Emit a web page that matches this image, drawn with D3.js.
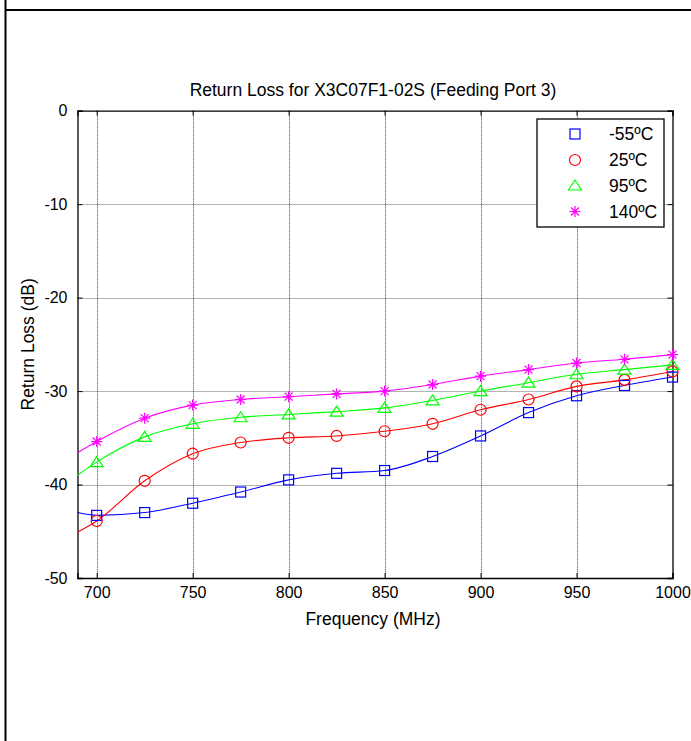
<!DOCTYPE html>
<html>
<head>
<meta charset="utf-8">
<script src="https://cdn.jsdelivr.net/npm/d3@7"></script>
<style>
  html, body { margin: 0; padding: 0; background: #fff; }
  svg { display: block; font-family: "Liberation Sans", Arial, sans-serif; }
</style>
</head>
<body>
<svg id="chart" width="691" height="741"></svg>
<script>
// ---- data ----
const freqs = [690, 700, 725, 750, 775, 800, 825, 850, 875, 900, 925, 950, 975, 1000];
const rlMinus55 = [-43.0, -43.3, -43.0, -42.0, -40.8, -39.5, -38.8, -38.5, -37.0, -34.8, -32.3, -30.5, -29.4, -28.5];
const rl25 = [-45.1, -43.9, -39.6, -36.7, -35.5, -35.0, -34.8, -34.3, -33.5, -32.0, -30.9, -29.5, -28.8, -27.9];
const rl95 = [-39.0, -37.6, -34.9, -33.5, -32.8, -32.5, -32.2, -31.8, -31.0, -30.0, -29.1, -28.2, -27.7, -27.2];
const rl140 = [-36.6, -35.4, -32.9, -31.5, -30.9, -30.6, -30.3, -30.0, -29.3, -28.4, -27.7, -27.0, -26.6, -26.1];
const seriesNames = ["-55ºC", "25ºC", "95ºC", "140ºC"];
const seriesColors = ["#0000ff", "#ff0000", "#00ff00", "#ff00ff"];
const seriesMarkers = ["square", "circle", "triangle", "star"];
const xTicks = [700, 750, 800, 850, 900, 950, 1000];
const yTicks = [0, -10, -20, -30, -40, -50];
const titleText = "Return Loss for X3C07F1-02S (Feeding Port 3)";
const xLabel = "Frequency (MHz)";
const yLabel = "Return Loss (dB)";

const allSeries = [rlMinus55, rl25, rl95, rl140].map((vals, i) => ({
  name: seriesNames[i], color: seriesColors[i], marker: seriesMarkers[i],
  points: freqs.map((f, j) => ({ f, v: vals[j] }))
}));

// ---- layout ----
const svg = d3.select("#chart");
const L = 77.5, R = 672.5, T = 110.7, B = 578;
const x = d3.scaleLinear().domain([690, 1000]).range([L, R]);
const y = d3.scaleLinear().domain([-50, 0]).range([B, T]);

// outer frame
svg.append("line").attr("x1", 5.5).attr("x2", 5.5).attr("y1", 0).attr("y2", 741)
  .attr("stroke", "#000").attr("stroke-width", 2);
svg.append("line").attr("x1", 5).attr("x2", 691).attr("y1", 10).attr("y2", 10)
  .attr("stroke", "#000").attr("stroke-width", 2);

// grid
const grid = svg.append("g");
grid.selectAll(".gx").data(xTicks.filter(t => t < 1000)).enter().append("line")
  .attr("x1", d => Math.round(x(d)) + 0.5).attr("x2", d => Math.round(x(d)) + 0.5)
  .attr("y1", T).attr("y2", B)
  .attr("stroke", "#444").attr("stroke-width", 1).attr("stroke-dasharray", "1,1");
grid.selectAll(".gy").data(yTicks.filter(t => t < 0 && t > -50)).enter().append("line")
  .attr("y1", d => Math.round(y(d)) + 0.5).attr("y2", d => Math.round(y(d)) + 0.5)
  .attr("x1", L).attr("x2", R)
  .attr("stroke", "#666").attr("stroke-width", 1).attr("stroke-dasharray", "1,1");

// axes (inward ticks, box)
const fs = 16, fsText = 17.5;
const fmt = d => String(d);
const xAxisB = d3.axisBottom(x).tickValues(xTicks).tickSize(-5).tickPadding(9).tickFormat(fmt);
const gxb = svg.append("g").attr("transform", `translate(0,${B})`).call(xAxisB);
const xAxisT = d3.axisTop(x).tickValues(xTicks).tickSize(-5).tickFormat("");
const gxt = svg.append("g").attr("transform", `translate(0,${T})`).call(xAxisT);
const yAxisL = d3.axisLeft(y).tickValues(yTicks).tickSize(-5).tickPadding(10).tickFormat(fmt);
const gyl = svg.append("g").attr("transform", `translate(${L},0)`).call(yAxisL);
const yAxisR = d3.axisRight(y).tickValues(yTicks).tickSize(-5).tickFormat("");
const gyr = svg.append("g").attr("transform", `translate(${R},0)`).call(yAxisR);
[gxb, gxt, gyl, gyr].forEach(g => {
  g.select(".domain").attr("stroke", "#000").attr("stroke-width", 1.3);
  g.selectAll(".tick line").attr("stroke", "#000");
  g.selectAll("text").attr("font-size", fs).attr("font-family", "Liberation Sans, Arial, sans-serif").attr("fill", "#000");
});
gxb.selectAll("text").attr("dy", "0.71em");

// lines
const line = d3.line().x(d => x(d.f)).y(d => y(d.v)).curve(d3.curveMonotoneX);
const plot = svg.append("g");
allSeries.forEach(s => {
  plot.append("path").datum(s.points).attr("d", line)
    .attr("fill", "none").attr("stroke", s.color).attr("stroke-width", 1.1);
});

function drawMarker(g, type, color, cx, cy) {
  const sz = 5;
  if (type === "square") {
    g.append("rect").attr("x", cx - sz).attr("y", cy - sz).attr("width", 2 * sz).attr("height", 2 * sz)
      .attr("fill", "none").attr("stroke", color).attr("stroke-width", 1.2);
  } else if (type === "circle") {
    g.append("circle").attr("cx", cx).attr("cy", cy).attr("r", 5.5)
      .attr("fill", "none").attr("stroke", color).attr("stroke-width", 1.2);
  } else if (type === "triangle") {
    const h = 5.5, w = 6.5;
    g.append("path").attr("d", `M${cx},${cy - h}L${cx + w},${cy + h - 1}L${cx - w},${cy + h - 1}Z`)
      .attr("fill", "none").attr("stroke", color).attr("stroke-width", 1.2);
  } else {
    const a = 5.5, b = 4;
    g.append("path").attr("d",
      `M${cx - a},${cy}L${cx + a},${cy}M${cx},${cy - a}L${cx},${cy + a}` +
      `M${cx - b},${cy - b}L${cx + b},${cy + b}M${cx - b},${cy + b}L${cx + b},${cy - b}`)
      .attr("fill", "none").attr("stroke", color).attr("stroke-width", 1.2);
  }
}
allSeries.forEach(s => {
  const g = plot.append("g");
  s.points.filter(p => p.f >= 700).forEach(p => drawMarker(g, s.marker, s.color, x(p.f), y(p.v)));
});

// title and labels
svg.append("text").attr("x", 373).attr("y", 96).attr("text-anchor", "middle")
  .attr("font-size", fsText).attr("fill", "#000").text(titleText);
svg.append("text").attr("x", 373).attr("y", 625).attr("text-anchor", "middle")
  .attr("font-size", fsText).attr("fill", "#000").text(xLabel);
svg.append("text").attr("transform", `translate(34,${(T + B) / 2}) rotate(-90)`).attr("text-anchor", "middle")
  .attr("font-size", fsText).attr("fill", "#000").text(yLabel);

// legend
const lg = svg.append("g");
lg.append("rect").attr("x", 537).attr("y", 119).attr("width", 127).attr("height", 108)
  .attr("fill", "#fff").attr("stroke", "#000").attr("stroke-width", 1.3);
const rowY = [134, 160, 185.5, 211.5];
allSeries.forEach((s, i) => {
  drawMarker(lg, s.marker, s.color, 575, rowY[i]);
  lg.append("text").attr("x", 609).attr("y", rowY[i]).attr("dy", "0.36em")
    .attr("font-size", fsText).attr("fill", "#000").text(s.name);
});
</script>
</body>
</html>
